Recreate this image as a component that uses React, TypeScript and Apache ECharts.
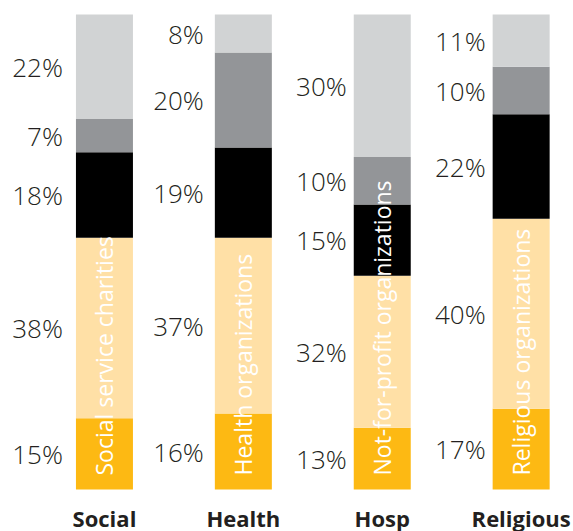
import React, { useEffect, useRef } from "react";
import * as echarts from "echarts";

const categories = ["Social", "Health", "Hosp", "Religious"];
const descriptions = [
  "Social service charities",
  "Health organizations",
  "Not-for-profit organizations",
  "Religious organizations",
];
const segmentNames = ["Orange", "Peach", "Black", "Dark gray", "Light gray"];
const orangeValues = [15, 16, 13, 17];
const peachValues = [38, 37, 32, 40];
const blackValues = [18, 19, 15, 22];
const darkGrayValues = [7, 20, 10, 10];
const lightGrayValues = [22, 8, 30, 11];

const segmentColors = ["#FDB913", "#FFE0A6", "#000000", "#939598", "#D1D3D4"];
const labelGaps = [13, 11, 7, 7];

export default function App() {
  const ref = useRef<HTMLDivElement>(null);
  useEffect(() => {
    if (!ref.current) return;
    const chart = echarts.init(ref.current, null, { renderer: "svg" });
    const segments = [orangeValues, peachValues, blackValues, darkGrayValues, lightGrayValues];
    const totals = categories.map((_, i) => segments.reduce((s, arr) => s + arr[i], 0));
    const stackSeries = segments.map((vals, si) => ({
      name: segmentNames[si],
      type: "bar",
      stack: "total",
      barWidth: 57,
      barGap: "-100%",
      itemStyle: { color: segmentColors[si] },
      label: {
        show: true,
        position: "left",
        formatter: (p: any) => `${p.value}%`,
        color: "#231F20",
        fontSize: 26,
        fontWeight: 300,
        fontFamily: "'Open Sans', sans-serif",
      },
      data: vals.map((v, i) => ({ value: v, label: { distance: labelGaps[i] } })),
    }));
    const overlay = {
      name: "Description",
      type: "bar",
      stack: "overlay",
      barWidth: 57,
      barGap: "-100%",
      silent: true,
      itemStyle: { color: "rgba(0,0,0,0)" },
      label: {
        show: true,
        position: "insideBottom",
        distance: 15,
        rotate: 90,
        align: "left",
        verticalAlign: "middle",
        offset: [-1, 0],
        color: "#FFFFFF",
        fontSize: 23,
        fontWeight: 500,
        fontFamily: "'Open Sans', sans-serif",
        formatter: (p: any) => descriptions[p.dataIndex],
      },
      data: totals,
    };
    chart.setOption({
      animation: false,
      grid: {
        left: 35,
        width: 555.6,
        top: 14.5,
        bottom: 41.5,
        containLabel: false,
        outerBoundsMode: "none",
      },
      xAxis: {
        type: "category",
        data: categories,
        axisLine: { show: false },
        axisTick: { show: false },
        axisLabel: {
          margin: 17,
          color: "#231F20",
          fontSize: 22,
          fontWeight: "bold",
          fontFamily: "'Open Sans', sans-serif",
          interval: 0,
        },
      },
      yAxis: { type: "value", min: 0, max: 100, show: false },
      series: [...stackSeries, overlay],
    });
    return () => chart.dispose();
  }, []);
  return (
    <div
      ref={ref}
      style={{ position: "absolute", left: 0, top: 0, width: 573, height: 531, background: "#fff" }}
    />
  );
}
